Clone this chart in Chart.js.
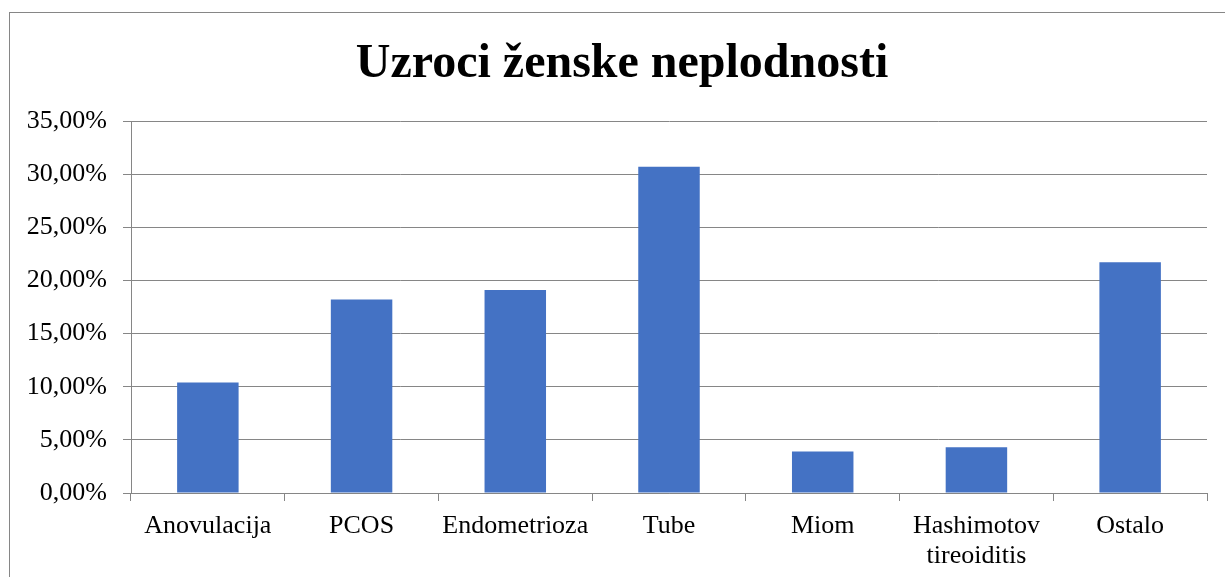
<!DOCTYPE html>
<html>
<head>
<meta charset="utf-8">
<script src="https://cdn.jsdelivr.net/npm/chart.js@4"></script>
<style>
  html, body { margin: 0; padding: 0; background: #fff; }
  #wrap { position: relative; width: 1225px; height: 577px; }
</style>
</head>
<body>
<div id="wrap"><canvas id="chart" width="1225" height="577"></canvas></div>
<script>
// Podaci
const kategorije = ['Anovulacija', 'PCOS', 'Endometrioza', 'Tube', 'Miom', ['Hashimotov', 'tireoiditis'], 'Ostalo'];
const postoci = [10.4, 18.2, 19.1, 30.7, 3.9, 4.3, 21.7];
const naslov = 'Uzroci ženske neplodnosti';

const serif = "'Liberation Serif', 'Times New Roman', serif";
const siva = '#868686';

// okvir oko cijelog grafa + naslov
const okvir = {
    id: 'okvir',
    beforeDraw(chart) {
        const c = chart.ctx;
        c.save();
        c.fillStyle = '#fff';
        c.fillRect(0, 0, chart.width, chart.height);
        c.strokeStyle = siva;
        c.lineWidth = 1;
        c.strokeRect(9.5, 12.5, chart.width + 20, 600);
        c.fillStyle = '#000';
        c.font = 'bold 48px ' + serif;
        c.textAlign = 'center';
        c.textBaseline = 'alphabetic';
        c.fillText(naslov, 622, 77);
        c.restore();
    }
};

new Chart(document.getElementById('chart'), {
    type: 'bar',
    data: {
        labels: kategorije,
        datasets: [{
            data: postoci,
            backgroundColor: '#4472C4',
            borderWidth: 0,
            barPercentage: 0.4,
            categoryPercentage: 1
        }]
    },
    options: {
        responsive: false,
        animation: false,
        layout: { padding: { left: 0, right: 18, top: 121, bottom: 0 } },
        plugins: {
            legend: { display: false },
            tooltip: { enabled: false },
            title: { display: false }
        },
        scales: {
            y: {
                min: 0,
                max: 35,
                ticks: {
                    stepSize: 5,
                    color: '#000',
                    padding: 16,
                    font: { family: serif, size: 26 },
                    callback: v => v.toFixed(2).replace('.', ',') + '%'
                },
                grid: { color: siva, tickLength: 8 },
                border: { color: siva },
                afterFit: s => { s.width = 131; }
            },
            x: {
                ticks: {
                    color: '#000',
                    padding: 10,
                    font: { family: serif, size: 26, lineHeight: 1.15 },
                    maxRotation: 0,
                    autoSkip: false
                },
                grid: { color: siva, drawOnChartArea: false, tickLength: 8, offset: true },
                border: { color: siva },
                afterFit: s => { s.height = 84; }
            }
        }
    },
    plugins: [okvir]
});
</script>
</body>
</html>
